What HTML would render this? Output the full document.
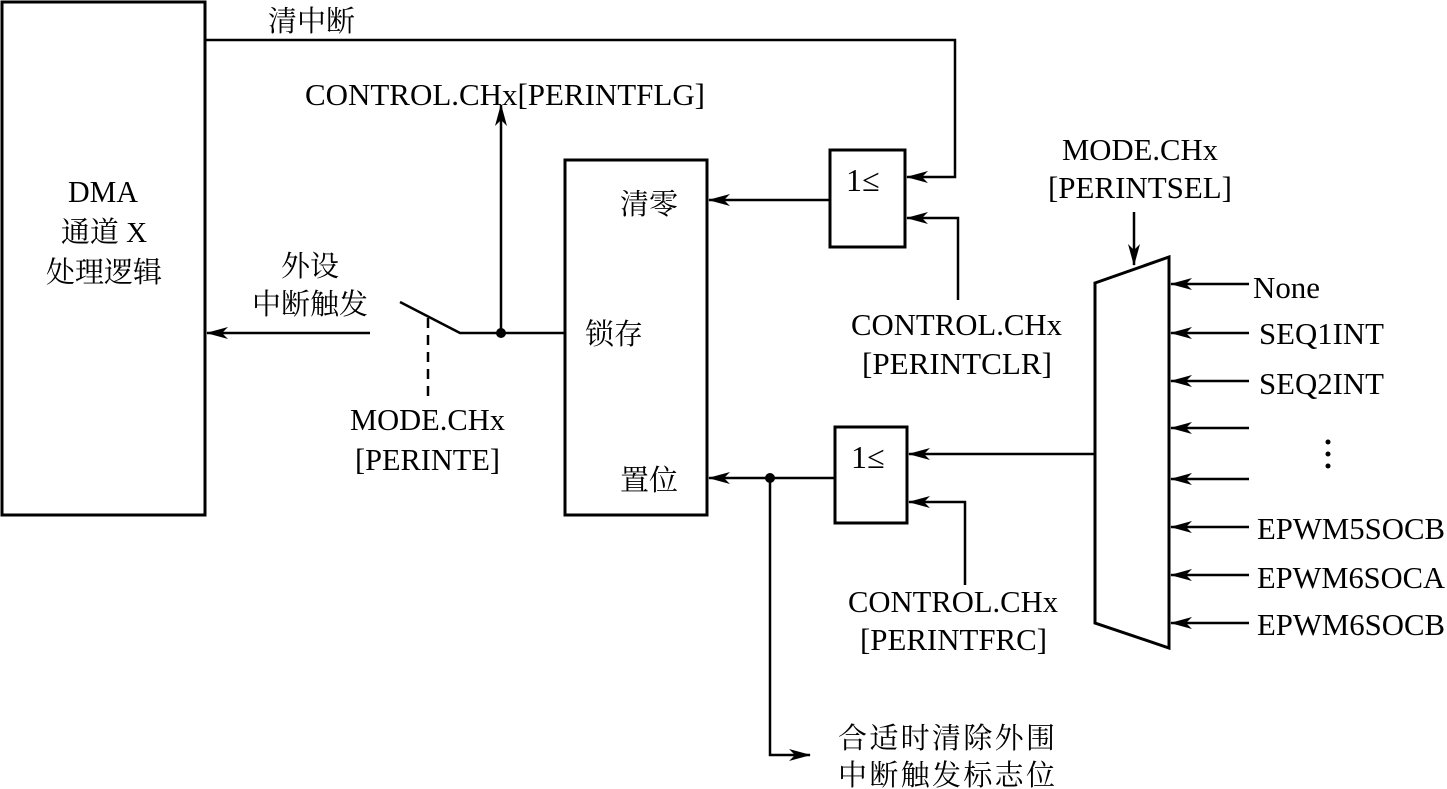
<!DOCTYPE html>
<html><head><meta charset="utf-8"><style>
body{margin:0;background:#fff}
svg{display:block}
text{font-family:"Liberation Serif","Noto Serif CJK SC",serif;font-size:29px;fill:#000}
text.l{font-size:31px}
</style></head><body>
<svg width="1447" height="789" viewBox="0 0 1447 789" xmlns="http://www.w3.org/2000/svg">
<defs><marker id="a" markerWidth="22" markerHeight="12" refX="21" refY="6" orient="auto" markerUnits="userSpaceOnUse"><path d="M0,0 L22,6 L0,12 L6,6 Z" fill="#000"/></marker></defs>
<g stroke="#000" stroke-width="2.5" fill="none">
<rect x="2" y="2" width="203" height="513" stroke-width="3"/>
<rect x="565" y="160" width="142" height="355" stroke-width="3"/>
<rect x="830" y="150" width="75" height="97" stroke-width="3"/>
<rect x="835" y="427" width="72" height="96" stroke-width="3"/>
<path d="M1095,283 L1169,257 L1169,648 L1095,623 Z" stroke-width="3"/>
<path d="M205,40 H955 V177 H907" marker-end="url(#a)"/>
<path d="M958,300 V218 H907" marker-end="url(#a)"/>
<path d="M830,200 H709" marker-end="url(#a)"/>
<path d="M565,333 H460 L400,302"/>
<path d="M370,333 H207" marker-end="url(#a)"/>
<path d="M501,333 V105" marker-end="url(#a)"/>
<path d="M428,318 V402" stroke-dasharray="10,7"/>
<path d="M835,478 H709" marker-end="url(#a)"/>
<path d="M770,478 V755 H810" marker-end="url(#a)"/>
<path d="M1095,454 H909" marker-end="url(#a)"/>
<path d="M965,585 V502 H909" marker-end="url(#a)"/>
<path d="M1134,212 V265" marker-end="url(#a)"/>
<path d="M1249,284 H1171" marker-end="url(#a)"/>
<path d="M1249,333 H1171" marker-end="url(#a)"/>
<path d="M1249,381 H1171" marker-end="url(#a)"/>
<path d="M1249,428 H1171" marker-end="url(#a)"/>
<path d="M1249,479 H1171" marker-end="url(#a)"/>
<path d="M1249,527 H1171" marker-end="url(#a)"/>
<path d="M1249,575 H1171" marker-end="url(#a)"/>
<path d="M1249,623 H1171" marker-end="url(#a)"/>
</g>
<circle cx="501" cy="333" r="5"/>
<circle cx="770" cy="478" r="5"/>
<circle cx="1328" cy="442" r="2.5"/><circle cx="1328" cy="454" r="2.5"/><circle cx="1328" cy="466" r="2.5"/>
<text class="l" x="68" y="202" textLength="70" lengthAdjust="spacingAndGlyphs">DMA</text>
<text x="104" y="242" text-anchor="middle">通道 X</text>
<text x="104" y="282" text-anchor="middle">处理逻辑</text>
<text x="268" y="31">清中断</text>
<text class="l" x="305" y="105" textLength="400" lengthAdjust="spacingAndGlyphs">CONTROL.CHx[PERINTFLG]</text>
<text x="310" y="276" text-anchor="middle">外设</text>
<text x="310" y="314" text-anchor="middle">中断触发</text>
<text class="l" x="350" y="430" textLength="155" lengthAdjust="spacingAndGlyphs">MODE.CHx</text>
<text class="l" x="355" y="470" textLength="145" lengthAdjust="spacingAndGlyphs">[PERINTE]</text>
<text x="620" y="214">清零</text>
<text x="585" y="344">锁存</text>
<text x="620" y="490">置位</text>
<text x="846" y="191" style="font-size:32px">1≤</text>
<text x="851" y="468" style="font-size:32px">1≤</text>
<text class="l" x="851" y="335" textLength="211" lengthAdjust="spacingAndGlyphs">CONTROL.CHx</text>
<text class="l" x="862" y="374" textLength="190" lengthAdjust="spacingAndGlyphs">[PERINTCLR]</text>
<text class="l" x="848" y="612" textLength="210" lengthAdjust="spacingAndGlyphs">CONTROL.CHx</text>
<text class="l" x="860" y="650" textLength="187" lengthAdjust="spacingAndGlyphs">[PERINTFRC]</text>
<text class="l" x="1062" y="160" textLength="156" lengthAdjust="spacingAndGlyphs">MODE.CHx</text>
<text class="l" x="1048" y="198" textLength="184" lengthAdjust="spacingAndGlyphs">[PERINTSEL]</text>
<text class="l" x="1253" y="298" textLength="67" lengthAdjust="spacingAndGlyphs">None</text>
<text class="l" x="1259" y="344" textLength="125" lengthAdjust="spacingAndGlyphs">SEQ1INT</text>
<text class="l" x="1259" y="394" textLength="125" lengthAdjust="spacingAndGlyphs">SEQ2INT</text>
<text class="l" x="1257" y="539" textLength="188" lengthAdjust="spacingAndGlyphs">EPWM5SOCB</text>
<text class="l" x="1257" y="588" textLength="188" lengthAdjust="spacingAndGlyphs">EPWM6SOCA</text>
<text class="l" x="1257" y="635" textLength="188" lengthAdjust="spacingAndGlyphs">EPWM6SOCB</text>
<text x="838" y="748" textLength="217">合适时清除外围</text>
<text x="838" y="785" textLength="217">中断触发标志位</text>
</svg>
</body></html>
